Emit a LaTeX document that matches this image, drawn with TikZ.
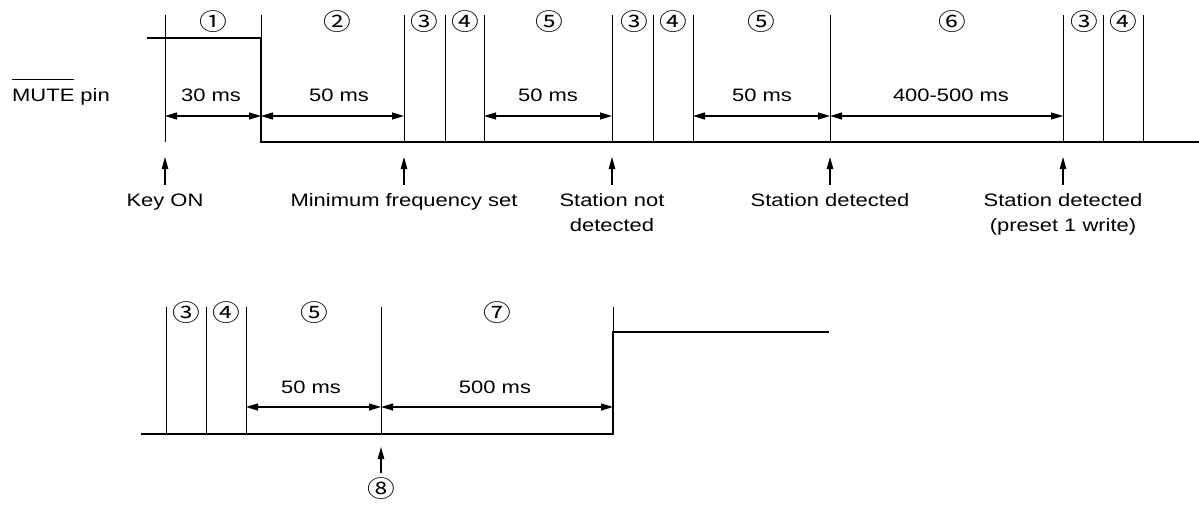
\documentclass[tikz,border=0pt]{standalone}
\usepackage{fontspec}
\setmainfont[FakeStretch=1.22]{Liberation Sans}
\newfontfamily\circfont[FakeStretch=1.18]{Noto Sans CJK SC}
\usetikzlibrary{arrows.meta,calc}
\newcommand\olmute[1]{\leavevmode\vbox{\hrule height 0.9pt\kern 9.5pt\hbox{#1}}}
\tikzset{
  sig/.style={line width=2.6pt, line join=miter},
  vline/.style={line width=0.9pt},
  dim/.style={line width=1.1pt, {Triangle[length=12pt,width=7pt]}-{Triangle[length=12pt,width=7pt]}},
  ptr/.style={line width=1.1pt, -{Triangle[length=12pt,width=6.5pt]}},
  lbl/.style={font=\fontsize{18}{25}\selectfont, inner sep=0pt},
  num/.style={font=\circfont\fontsize{23.5}{23.5}\selectfont, inner sep=0pt},
}
\begin{document}
\begin{tikzpicture}[x=1pt,y=-1pt]
\useasboundingbox (0,0) rectangle (1199,504);

% ---------- top diagram ----------
\foreach \n/\x in {k/165, e/261, a/404, b/445, c/484, d/612, f/653, g/693, h/830, i/1063, j/1103, m/1143}{
  \coordinate (t\n) at (\x,15);
  \coordinate (b\n) at (\x,142);
  \coordinate (d\n) at (\x,116);
  \coordinate (p\n) at (\x,185);
  \coordinate (q\n) at (\x,157);
}
\coordinate (sigL) at (147,38);
\coordinate (he) at (261,38);
\coordinate (sigR) at (1199,142);

\foreach \n in {k,a,b,c,d,f,g,h,i,j,m}{\draw[vline] (t\n) -- (b\n);}
\draw[vline] (te) -- (he);
\draw[sig] (sigL) -- (he) -- (be) -- (sigR);

\node[lbl, anchor=base west] (mute) at (12,101.5) {\olmute{MUTE} pin};

\node[num] (n1) at (213,22) {①};
\node[num] (n2) at (337,22) {②};
\node[num] (n3a) at (424.5,22) {③};
\node[num] (n4a) at (465,22) {④};
\node[num] (n5a) at (549,22) {⑤};
\node[num] (n3b) at (634,22) {③};
\node[num] (n4b) at (673,22) {④};
\node[num] (n5b) at (761.5,22) {⑤};
\node[num] (n6) at (952,22) {⑥};
\node[num] (n3c) at (1084,22) {③};
\node[num] (n4c) at (1123,22) {④};

\node[lbl, anchor=base] (t30) at (211,101) {30 ms};
\node[lbl, anchor=base] (t50a) at (339,101) {50 ms};
\node[lbl, anchor=base] (t50b) at (548,101) {50 ms};
\node[lbl, anchor=base] (t50c) at (762,101) {50 ms};
\node[lbl, anchor=base] (t400) at (951,101) {400-500 ms};

\draw[dim] (dk) -- (de);
\draw[dim] (de) -- (da);
\draw[dim] (dc) -- (dd);
\draw[dim] (dg) -- (dh);
\draw[dim] (dh) -- (di);

\foreach \n in {k,a,d,h,i}{\draw[ptr] (p\n) -- (q\n);}

\node[lbl, anchor=base] (keyon) at (165,206.5) {Key ON};
\node[lbl, anchor=base] (minf) at (404,206.5) {Minimum frequency set};
\node[lbl, anchor=north, align=center] (snd) at (612,193) {Station not\\detected};
\node[lbl, anchor=base] (sd) at (830,206.5) {Station detected};
\node[lbl, anchor=north, align=center] (sdp) at (1063,193) {Station detected\\(preset 1 write)};

% ---------- bottom diagram ----------
\foreach \n/\x in {r/166, s/206, u/246, v/381, w/613}{
  \coordinate (T\n) at (\x,307);
  \coordinate (B\n) at (\x,434);
  \coordinate (D\n) at (\x,407);
  \coordinate (P\n) at (\x,473);
  \coordinate (Q\n) at (\x,447);
}
\coordinate (sig2L) at (141,434);
\coordinate (Hw) at (613,332);
\coordinate (sig2R) at (829,332);

\foreach \n in {r,s,u,v}{\draw[vline] (T\n) -- (B\n);}
\draw[vline] (Tw) -- (Hw);
\draw[sig] (sig2L) -- (Bw) -- (Hw) -- (sig2R);

\node[num] (m3) at (186.5,313) {③};
\node[num] (m4) at (226,313) {④};
\node[num] (m5) at (314,313) {⑤};
\node[num] (m7) at (497,313) {⑦};

\node[lbl, anchor=base] (b50) at (311,393.5) {50 ms};
\node[lbl, anchor=base] (b500) at (495,393.5) {500 ms};

\draw[dim] (Du) -- (Dv);
\draw[dim] (Dv) -- (Dw);

\draw[ptr] (Pv) -- (Qv);
\node[num] (m8) at (381,489) {⑧};
\end{tikzpicture}
\end{document}
